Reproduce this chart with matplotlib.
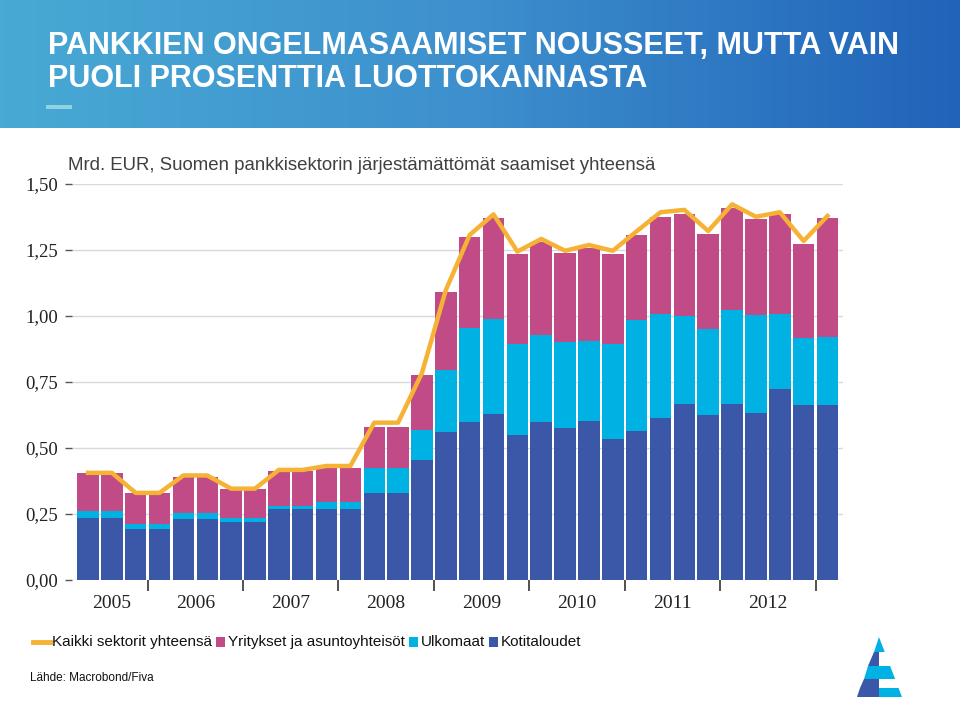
import numpy as np
import matplotlib
matplotlib.use("Agg")
import matplotlib.pyplot as plt
from matplotlib.patches import Rectangle, Polygon
from matplotlib.lines import Line2D
from matplotlib.colors import LinearSegmentedColormap

# quarterly data, 2005Q2 .. 2013Q1 (bn EUR)
kotitaloudet = [0.236, 0.236, 0.193, 0.193, 0.231, 0.231, 0.218, 0.218,
                0.270, 0.270, 0.270, 0.270, 0.331, 0.331, 0.455, 0.562,
                0.597, 0.628, 0.549, 0.597, 0.577, 0.602, 0.533, 0.566,
                0.612, 0.667, 0.625, 0.667, 0.634, 0.722, 0.663, 0.663]
ulkomaat_top = [0.262, 0.262, 0.211, 0.211, 0.255, 0.255, 0.236, 0.236,
                0.280, 0.280, 0.297, 0.297, 0.425, 0.425, 0.568, 0.795,
                0.956, 0.989, 0.895, 0.928, 0.900, 0.904, 0.895, 0.985,
                1.008, 1.001, 0.949, 1.023, 1.004, 1.008, 0.915, 0.922]
yritykset_top = [0.404, 0.404, 0.328, 0.328, 0.391, 0.391, 0.343, 0.343,
                 0.413, 0.413, 0.425, 0.425, 0.581, 0.581, 0.777, 1.092,
                 1.300, 1.372, 1.234, 1.282, 1.237, 1.259, 1.235, 1.307,
                 1.376, 1.385, 1.309, 1.410, 1.367, 1.386, 1.273, 1.372]
kaikki = [0.406, 0.406, 0.330, 0.330, 0.396, 0.396, 0.346, 0.346,
          0.417, 0.417, 0.432, 0.432, 0.596, 0.596, 0.784, 1.098,
          1.307, 1.385, 1.244, 1.292, 1.247, 1.269, 1.247, 1.321,
          1.393, 1.402, 1.322, 1.423, 1.376, 1.393, 1.284, 1.379]
years = ["2005", "2006", "2007", "2008", "2009", "2010", "2011", "2012"]
year_label_pos = [1.0, 4.5, 8.5, 12.5, 16.5, 20.5, 24.5, 28.5]
year_boundaries = [2.5, 6.5, 10.5, 14.5, 18.5, 22.5, 26.5, 30.5]

ulkomaat = [u - k for u, k in zip(ulkomaat_top, kotitaloudet)]
yritykset = [y - u for y, u in zip(yritykset_top, ulkomaat_top)]

c_koti = "#3a58a7"
c_ulko = "#00b2e3"
c_yrit = "#c04b87"
c_line = "#f6b234"

sans = ["Liberation Sans", "DejaVu Sans"]
serif = ["Liberation Serif", "DejaVu Serif"]

W, H = 960, 702
fig = plt.figure(figsize=(9.6, 7.02), dpi=100)
fig.patch.set_facecolor("white")

# header banner with gradient
hdr = fig.add_axes([0, 1 - 128 / H, 1, 128 / H])
cmap = LinearSegmentedColormap.from_list("hdr", ["#48aad4", "#3d8fcd", "#2163b9"])
grad = np.linspace(0, 1, 256).reshape(1, -1)
hdr.imshow(grad, aspect="auto", cmap=cmap, extent=[0, 1, 0, 1])
hdr.set_axis_off()
fig.text(48 / W, 1 - 46 / H, "PANKKIEN ONGELMASAAMISET NOUSSEET, MUTTA VAIN",
         color="white", fontsize=22, fontweight="bold", family=sans, va="center")
fig.text(48 / W, 1 - 79 / H, "PUOLI PROSENTTIA LUOTTOKANNASTA",
         color="white", fontsize=22, fontweight="bold", family=sans, va="center")
fig.add_artist(Rectangle((46 / W, 1 - 109 / H), 26 / W, 4 / H,
                         transform=fig.transFigure, color="#8fd3e0", lw=0))

# main chart
ax = fig.add_axes([72 / W, 1 - 580 / H, 771 / W, 396 / H])
x = np.arange(len(kotitaloudet))
bw = 0.9
ax.bar(x, kotitaloudet, width=bw, color=c_koti, zorder=2)
ax.bar(x, ulkomaat, width=bw, bottom=kotitaloudet, color=c_ulko, zorder=2)
ax.bar(x, yritykset, width=bw, bottom=ulkomaat_top, color=c_yrit, zorder=2)
ax.plot(x, kaikki, color=c_line, lw=3.2, zorder=3)

ax.set_xlim(-0.67, 31.65)
ax.set_ylim(0, 1.5)
yt = [0, 0.25, 0.5, 0.75, 1.0, 1.25, 1.5]
ax.set_yticks(yt)
ax.set_yticklabels([f"{v:.2f}".replace(".", ",") for v in yt],
                   family=serif, fontsize=13.5, color="#222222")
ax.tick_params(axis="y", length=5, width=1, color="#555555", pad=5)
ax.yaxis.grid(True, color="#d9d9d9", lw=1, zorder=0)
ax.set_axisbelow(True)

ax.set_xticks(year_label_pos)
ax.set_xticklabels(years, family=serif, fontsize=14, color="#222222")
ax.tick_params(axis="x", which="major", length=0, pad=11)
ax.set_xticks(year_boundaries, minor=True)
ax.tick_params(axis="x", which="minor", length=8, width=1.2, color="#333333",
               direction="out")
for s in ax.spines.values():
    s.set_visible(False)

fig.text(68 / W, 1 - 165 / H,
         "Mrd. EUR, Suomen pankkisektorin järjestämättömät saamiset yhteensä",
         family=sans, fontsize=13.4, color="#404040", va="center")

# legend row, laid out left to right
renderer = fig.canvas.get_renderer()
ly = 1 - 642 / H
fig.add_artist(Line2D([33 / W, 50 / W], [ly, ly], transform=fig.transFigure,
                      color=c_line, lw=3.5))
items = [(None, "Kaikki sektorit yhteensä"),
         (c_yrit, "Yritykset ja asuntoyhteisöt"),
         (c_ulko, "Ulkomaat"),
         (c_koti, "Kotitaloudet")]
px = 52
for col, label in items:
    if col is not None:
        fig.add_artist(Rectangle((px / W, ly - 5 / H), 9 / W, 10 / H,
                                 transform=fig.transFigure, color=col, lw=0))
        px += 12
    t = fig.text(px / W, ly, label, family=sans, fontsize=11, color="#111111",
                 va="center")
    px += t.get_window_extent(renderer).width + 4

fig.text(30 / W, 1 - 678 / H, "Lähde: Macrobond/Fiva", family=sans,
         fontsize=8.5, color="#111111", va="center")

# logo
def fp(pts):
    return [(a / W, 1 - b / H) for a, b in pts]

apex = (879, 637)
left_b, right_b, base = 857, 902, 697
def xl(y):
    return apex[0] + (left_b - apex[0]) * (y - apex[1]) / (base - apex[1])
def xr(y):
    return apex[0] + (right_b - apex[0]) * (y - apex[1]) / (base - apex[1])
bands = [637, 652, 666, 679, 688, 697]
lcols = ["#00b2e3", "#3a58a7", "#00b2e3", "#3a58a7", "#3a58a7"]
rcols = ["#00b2e3", "#ffffff", "#00b2e3", "#ffffff", "#00b2e3"]
for i in range(len(bands) - 1):
    y0, y1 = bands[i], bands[i + 1]
    fig.add_artist(Polygon(fp([(xl(y0), y0), (apex[0], y0), (apex[0], y1), (xl(y1), y1)]),
                           closed=True, transform=fig.transFigure, color=lcols[i], lw=0))
    fig.add_artist(Polygon(fp([(apex[0], y0), (xr(y0), y0), (xr(y1), y1), (apex[0], y1)]),
                           closed=True, transform=fig.transFigure, color=rcols[i], lw=0))

fig.savefig("out.png", dpi=100)
